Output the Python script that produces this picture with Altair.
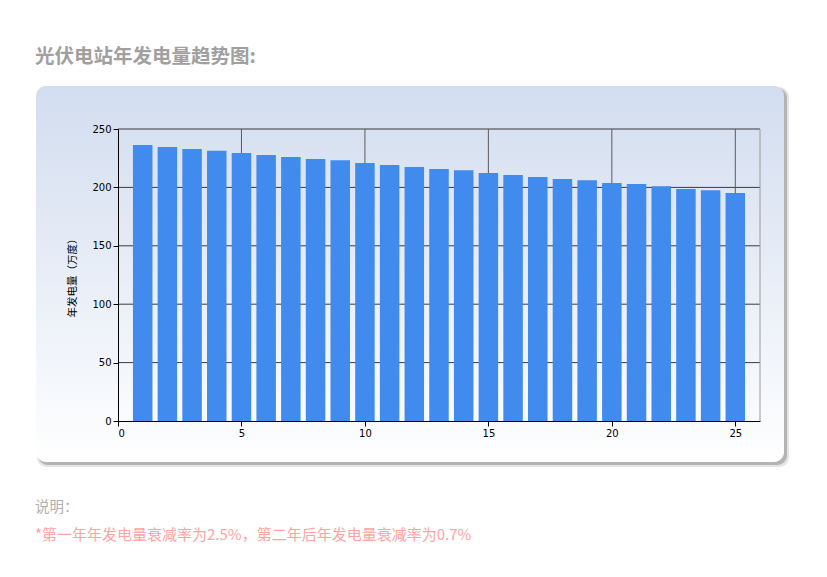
import altair as alt
import pandas as pd

years = list(range(1, 26))
energy = [236.3, 234.6, 232.9, 231.4, 229.5, 227.7, 226.0, 224.3, 223.2, 220.9,
          219.2, 217.5, 215.8, 214.6, 212.3, 210.6, 208.9, 207.2, 206.1, 203.8,
          202.9, 200.9, 198.6, 197.5, 195.2]
y_grid = [50, 100, 150, 200, 250]
x_grid = [5, 10, 15, 20, 25]

title_text = "光伏电站年发电量趋势图:"
note_head = "说明："
note_text = "*第一年年发电量衰减率为2.5%，第二年后年发电量衰减率为0.7%"
y_title = "年发电量（万度）"

W, H = 642, 292
one = pd.DataFrame({"a": [0]})

xs = alt.Scale(domain=[0, 26], nice=False, zero=False, padding=0)
ys = alt.Scale(domain=[0, 250], nice=False, padding=0)

grad = alt.Gradient(gradient="linear", x1=0, x2=0, y1=0, y2=1,
                    stops=[alt.GradientStop(color="#d2ddef", offset=0),
                           alt.GradientStop(color="#f3f6fb", offset=0.75),
                           alt.GradientStop(color="#ffffff", offset=1)])

shadow2 = alt.Chart(one).mark_rect(cornerRadius=10, fill="#e4e4e4").encode(
    x=alt.value(-81), x2=alt.value(671), y=alt.value(-42), y2=alt.value(338))
shadow = alt.Chart(one).mark_rect(cornerRadius=10, fill="#b4b4b4").encode(
    x=alt.value(-80), x2=alt.value(669), y=alt.value(-41), y2=alt.value(336))
panel = alt.Chart(one).mark_rect(cornerRadius=10, fill=grad).encode(
    x=alt.value(-82), x2=alt.value(666), y=alt.value(-43), y2=alt.value(333))

hgrid = alt.Chart(pd.DataFrame({"v": y_grid})).mark_rule(color="#3a3a3a", strokeWidth=1).encode(
    y=alt.Y("v:Q", scale=ys))
vgrid = alt.Chart(pd.DataFrame({"v": x_grid})).mark_rule(color="#5a5a5a", strokeWidth=1).encode(
    x=alt.X("v:Q", scale=xs))
right_edge = alt.Chart(one).mark_rule(color="#9a9a9a").encode(
    x=alt.value(W), y=alt.value(0), y2=alt.value(H))

df = pd.DataFrame({"year": years, "energy": energy})
bars = alt.Chart(df).mark_bar(color="#418bee", width=19.5).encode(
    x=alt.X("year:Q", scale=xs,
            axis=alt.Axis(values=[0, 5, 10, 15, 20, 25], title=None, grid=False,
                          domainColor="#000", tickColor="#000", tickSize=5,
                          labelColor="#000", labelFontSize=10, labelFont="DejaVu Sans",
                          labelPadding=2, zindex=1)),
    y=alt.Y("energy:Q", scale=ys,
            axis=alt.Axis(values=[0, 50, 100, 150, 200, 250], title=y_title, grid=False,
                          domainColor="#000", tickColor="#000", tickSize=5,
                          labelColor="#000", labelFontSize=10, labelFont="DejaVu Sans",
                          labelPadding=2, titleFontSize=10.5, titleFontWeight="normal",
                          titleColor="#000", titleFont="Noto Sans CJK SC",
                          titlePadding=14, zindex=1)),
)

title = alt.Chart(one).mark_text(text=title_text, align="left", baseline="middle",
                                 fontSize=19.5, fontWeight="bold", color="#a0a0a0",
                                 font="Noto Sans CJK SC").encode(
    x=alt.value(-83), y=alt.value(-72))
note1 = alt.Chart(one).mark_text(text=note_head, align="left", baseline="middle",
                                 fontSize=14.5, color="#b0b0b0",
                                 font="Noto Sans CJK SC").encode(
    x=alt.value(-83), y=alt.value(379))
note2 = alt.Chart(one).mark_text(text=note_text, align="left", baseline="middle",
                                 fontSize=15, color="#ffa3a3",
                                 font="Noto Sans CJK SC").encode(
    x=alt.value(-83), y=alt.value(406))

chart = alt.layer(shadow2, shadow, panel, hgrid, vgrid, right_edge, bars,
                  title, note1, note2).properties(
    width=W, height=H,
    autosize=alt.AutoSizeParams(type="none"),
    padding={"left": 110, "top": 121, "right": 40, "bottom": 130},
).configure_view(stroke=None).configure(background="#ffffff")

chart.save("out.html", embed_options={"renderer": "svg", "actions": False})
